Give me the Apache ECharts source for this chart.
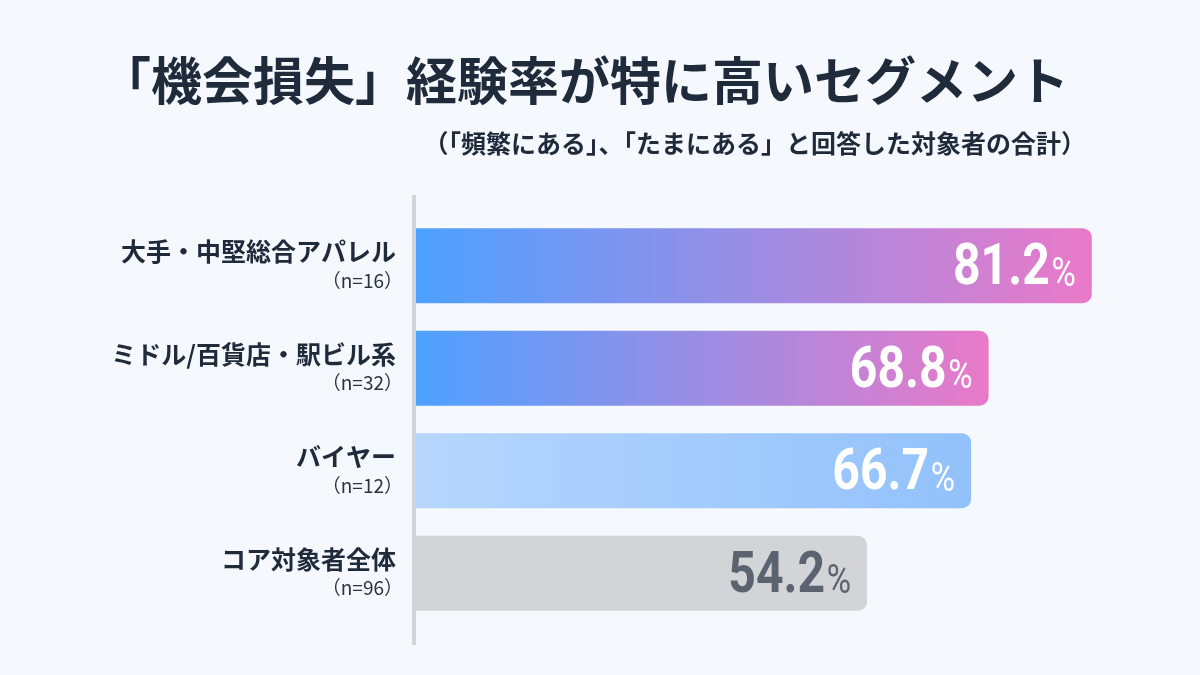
<!DOCTYPE html>
<html>
<head>
<meta charset="utf-8">
<script src="https://cdn.jsdelivr.net/npm/echarts@6/dist/echarts.min.js"></script>
<style>
  html, body { margin: 0; padding: 0; background: #f5f8fc; }
  #chart { width: 1200px; height: 675px; }
</style>
</head>
<body>
<div id="chart"></div>
<script>
const segments = ['大手・中堅総合アパレル', 'ミドル/百貨店・駅ビル系', 'バイヤー', 'コア対象者全体'];
const sampleSizes = [16, 32, 12, 96];
const rates = [81.2, 68.8, 66.7, 54.2];

const titleText = '「機会損失」経験率が特に高いセグメント';
const subtitleText = '（「頻繁にある」、「たまにある」と回答した対象者の合計）';

const jpFont = '"Noto Sans CJK JP", "Noto Sans", sans-serif';
const numFont = 'Roboto, "Noto Sans", sans-serif';

// bar fills: strong gradient, pale blue gradient, flat grey
const fills = [
    { stops: ['#4da1ff', '#ea79c8'], label: '#ffffff' },
    { stops: ['#4da1ff', '#ea79c8'], label: '#ffffff' },
    { stops: ['#b6d6fd', '#92c1fb'], label: '#ffffff' },
    { stops: ['#d3d4d8', '#d3d4d8'], label: '#5b6270' }
];

const chart = echarts.init(document.getElementById('chart'));

const barData = rates.map((v, i) => ({
    value: v,
    itemStyle: {
        color: new echarts.graphic.LinearGradient(0, 0, 1, 0, [
            { offset: 0, color: fills[i].stops[0] },
            { offset: 1, color: fills[i].stops[1] }
        ])
    }
}));

// value labels are drawn by a custom series so they can be narrowed (condensed look)
function renderValueLabel(params, api) {
    const i = api.value(1);
    const end = api.coord([api.value(0), i]);
    const color = fills[i].label;
    return {
        type: 'text',
        x: end[0] - 16,
        y: end[1] + 4,
        scaleX: 0.83,
        z2: 10,
        style: {
            text: `{num|${api.value(0).toFixed(1)}}{pct|%}`,
            align: 'right',
            verticalAlign: 'middle',
            rich: {
                num: { fill: color, fontSize: 58, fontWeight: 'bold', fontFamily: numFont },
                pct: { fill: color, fontSize: 40, fontWeight: 'normal', fontFamily: numFont, padding: [12, 0, 0, 2] }
            }
        }
    };
}

const option = {
    backgroundColor: '#f5f8fc',
    title: [
        {
            text: titleText,
            left: 95,
            top: 50,
            textStyle: { fontFamily: jpFont, fontSize: 51, fontWeight: 'bold', color: '#1f2a3b' }
        },
        {
            text: subtitleText,
            right: 109,
            top: 126,
            textStyle: { fontFamily: jpFont, fontSize: 25, fontWeight: 'bold', color: '#1f2a3b' }
        }
    ],
    grid: { left: 416, right: 35, top: 214.5, bottom: 50.5 },
    xAxis: {
        type: 'value',
        min: 0,
        max: 90,
        show: false
    },
    yAxis: {
        type: 'category',
        inverse: true,
        data: segments,
        axisLine: { show: false },
        axisTick: { show: false },
        axisLabel: {
            margin: 13,
            align: 'right',
            formatter: (name, idx) => `{name|${name}}\n{n|（n=${sampleSizes[idx]}）}`,
            rich: {
                name: { fontFamily: jpFont, fontSize: 25, fontWeight: 'bold', color: '#1f2a3b', lineHeight: 30, align: 'right', padding: [0, 7, 0, 0] },
                n: { fontFamily: jpFont, fontSize: 19, color: '#2b3443', lineHeight: 28, align: 'right' }
            }
        }
    },
    series: [
        {
            type: 'bar',
            data: barData,
            barWidth: 75,
            itemStyle: { borderRadius: [0, 9, 9, 0] },
            animation: false
        },
        {
            type: 'custom',
            data: rates.map((v, i) => [v, i]),
            encode: { x: 0, y: 1 },
            renderItem: renderValueLabel,
            z: 5,
            silent: true,
            animation: false
        }
    ],
    graphic: [
        {
            type: 'line',
            shape: { x1: 414, y1: 195, x2: 414, y2: 645 },
            style: { stroke: '#d3d4d8', lineWidth: 4 }
        }
    ]
};

chart.setOption(option);
</script>
</body>
</html>
